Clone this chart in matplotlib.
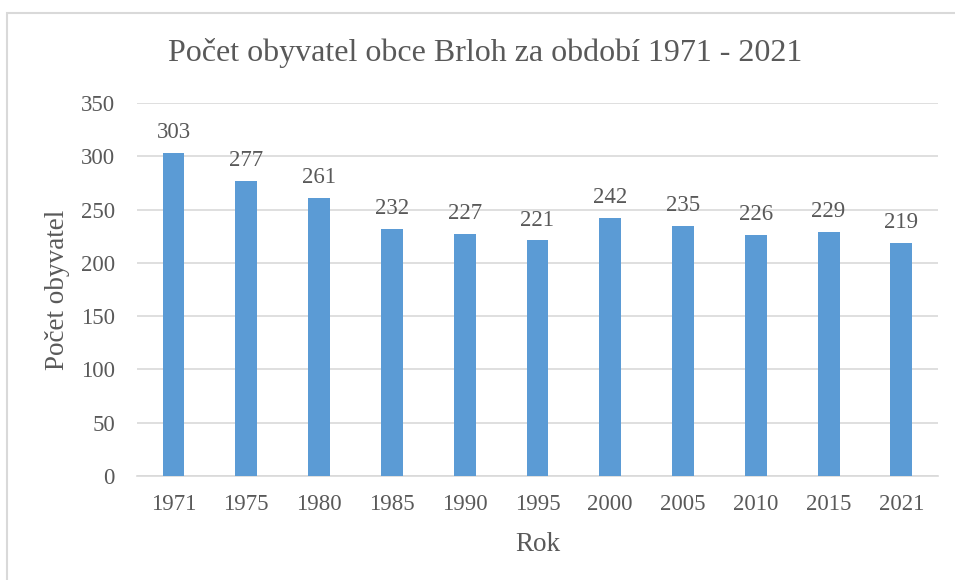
import matplotlib
matplotlib.use("Agg")
import matplotlib.pyplot as plt
from matplotlib.patches import Rectangle

years = ['1971', '1975', '1980', '1985', '1990', '1995', '2000', '2005', '2010', '2015', '2021']
population = [303, 277, 261, 232, 227, 221, 242, 235, 226, 229, 219]

plt.rcParams['font.family'] = ['Liberation Serif', 'DejaVu Serif']
txt = '#595959'
grid = '#d9d9d9'

fig = plt.figure(figsize=(9.55, 5.8), dpi=100)
ax = fig.add_axes([0.1435, 0.1793, 0.8385, 0.6431])

# frame around the whole chart (cut off at right and bottom)
fig.patches.append(Rectangle((7 / 955, -0.1), 1.1, 1 - 13 / 580 + 0.1,
                             transform=fig.transFigure, fill=False,
                             edgecolor=grid, linewidth=1.5))

x = range(len(years))
bars = ax.bar(x, population, width=0.3, color='#5b9bd5', zorder=3)
for b, v in zip(bars, population):
    ax.annotate(str(v), (b.get_x() + b.get_width() / 2, v), xytext=(0, 7),
                textcoords='offset points', ha='center', va='bottom',
                fontsize=16.5, color=txt)

ax.set_xlim(-0.5, len(years) - 0.5)
ax.set_ylim(0, 350)
ax.set_yticks(range(0, 351, 50))
ax.set_xticks(list(x))
ax.set_xticklabels(years)
ax.yaxis.grid(True, color=grid, linewidth=1.2, zorder=0)
for s in ['top', 'right', 'left']:
    ax.spines[s].set_visible(False)
ax.spines['bottom'].set_color(grid)
ax.spines['bottom'].set_linewidth(1.2)
ax.tick_params(length=0, labelsize=16.5, labelcolor=txt)
ax.tick_params(axis='x', pad=13)
ax.tick_params(axis='y', pad=16)

ax.set_xlabel('Rok', fontsize=19.5, color=txt, labelpad=12)
ax.set_ylabel('Počet obyvatel', fontsize=19.5, color=txt, labelpad=8)
fig.text(0.508, 0.908, 'Počet obyvatel obce Brloh za období 1971 - 2021',
         ha='center', va='center', fontsize=23, color=txt)

fig.savefig('out.png', dpi=100)
